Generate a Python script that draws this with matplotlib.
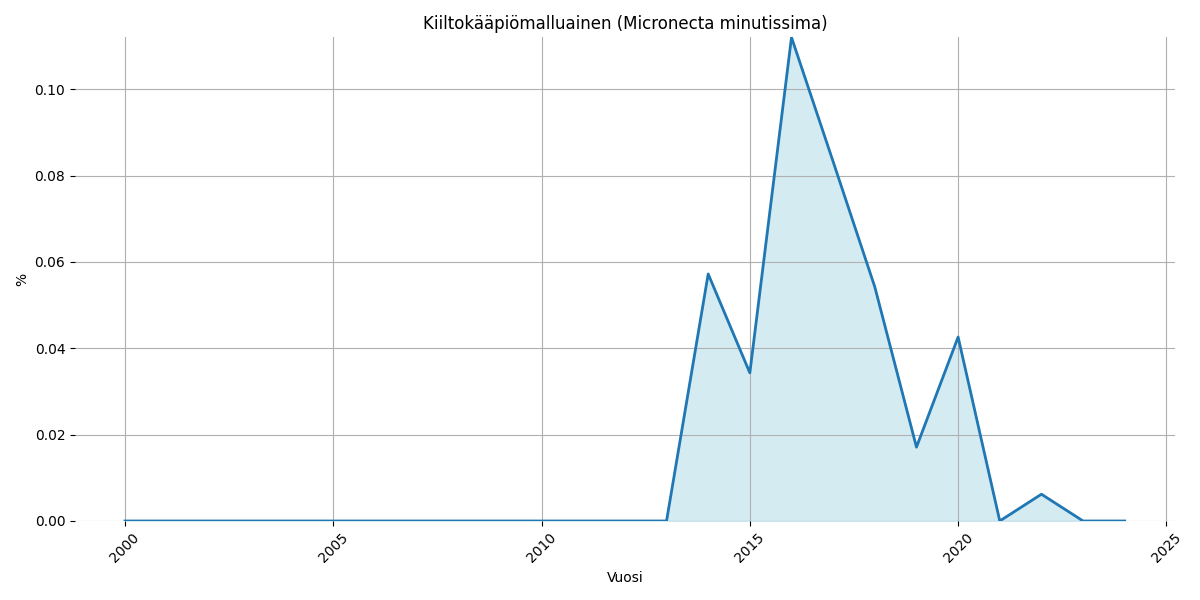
import matplotlib
matplotlib.use("Agg")
import matplotlib.pyplot as plt

years = list(range(2000, 2025))
values = [0.0] * 14 + [0.0572, 0.0343, 0.1120, 0.0832, 0.0542, 0.0171, 0.0426, 0.0, 0.0062, 0.0, 0.0]

title = "Kiiltokääpiömalluainen (Micronecta minutissima)"

fig, ax = plt.subplots(figsize=(12, 6), dpi=100)
ax.fill_between(years, values, color="lightblue", alpha=0.5)
ax.plot(years, values, color="#1f77b4", linewidth=2)
ax.set_ylim(0, max(values))
ax.set_title(title)
ax.set_xlabel("Vuosi")
ax.set_ylabel("%")
ax.grid(True)
for s in ax.spines.values():
    s.set_visible(False)
plt.setp(ax.get_xticklabels(), rotation=45)
fig.tight_layout()
fig.savefig("out.png")
